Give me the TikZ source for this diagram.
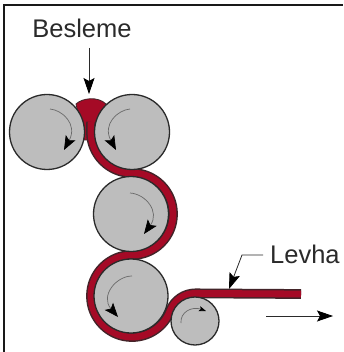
\documentclass[tikz,border=0pt]{standalone}
\usepackage{fontspec}
\setmainfont{Liberation Sans}
\usetikzlibrary{arrows.meta}
\definecolor{sheetred}{HTML}{A50A26}
\definecolor{rollgray}{HTML}{BDBDBD}
\definecolor{ink}{HTML}{2A2A2A}
\tikzset{
  x=1pt,y=-1pt,
  roller/.style={circle,draw=ink,line width=1.3pt,fill=rollgray,inner sep=0pt,minimum size=#1},
  lbl/.style={font=\fontsize{25.5}{29}\selectfont,text=ink,inner sep=0pt},
  spin/.style={draw=ink!70,line width=.7pt,-{Stealth[length=14pt,width=11pt,inset=3pt,color=black]}},
  spinsmall/.style={draw=ink!70,line width=.7pt,-{Stealth[length=7pt,width=5pt,inset=1.5pt,color=black]}},
  pointer/.style={draw=ink,line width=.8pt,-{Stealth[length=16pt,width=11pt,inset=3pt,color=black]}},
  sheetout/.style={draw=ink!80!sheetred,line width=9.8pt,line cap=butt,line join=round},
  sheetin/.style={draw=sheetred,line width=6.8pt,line cap=butt,line join=round}
}
\begin{document}
\begin{tikzpicture}
\useasboundingbox (0,0) rectangle (343,352);
\fill[white] (0,0) rectangle (343,352);
\draw[black!90,line width=2pt] (4,352) -- (4,5) -- (343,5);
% feed blob
\fill[sheetred,draw=ink!80!sheetred,line width=.8pt] (76,104) .. controls (82,98) and (98,96) .. (106,104) -- (96,140) -- (84,140) -- cycle;
% sheet
\def\sheetpath{(91.2,122)
  .. controls (90.8,126) and (91,129) .. (91,132)
  arc[start angle=180,end angle=270,x radius=41,y radius=-41]
  arc[start angle=90,end angle=-90,x radius=41,y radius=-41]
  arc[start angle=90,end angle=270,x radius=41,y radius=-41]
  arc[start angle=270,end angle=339,x radius=41,y radius=-41]
  arc[start angle=159,end angle=90,x radius=27,y radius=-27]
  -- (301,294)}
\draw[sheetout] \sheetpath;
\draw[sheetin] \sheetpath;
% rollers
\node[roller=75pt] (r1) at (47,132) {};
\node[roller=75pt] (r2) at (132,132) {};
\node[roller=75pt] (r3) at (131,214) {};
\node[roller=74pt] (r4) at (131,296) {};
\node[roller=48pt] (r5) at (195,321) {};
% rotation arrows
\draw[spin] (50,109) .. controls (62,110) and (78,124) .. (64,150);
\draw[spin] (130,109) .. controls (118,110) and (102,124) .. (116,150);
\draw[spin] (130,193) .. controls (146,194) and (160,212) .. (144,234);
\draw[spin] (132,276) .. controls (116,276) and (100,296) .. (118,317);
\draw[spinsmall] (181,323) .. controls (180,312) and (192,306) .. (206,311);
% labels
\node[lbl] (feed) at (82,28) {Besleme};
\node[lbl,anchor=west] (plate) at (270,254) {Levha};
\coordinate (feedtip) at (89,94);
\coordinate (feedtop) at (89,48);
\coordinate (platebend) at (242,255);
\coordinate (platetip) at (229,289);
\coordinate (outa) at (266,316);
\coordinate (outb) at (333,316);
\draw[pointer] (feedtop) -- (feedtip);
\draw[pointer] (plate.west) ++(-7,1) -- (platebend) -- (platetip);
\draw[pointer] (outa) -- (outb);
\end{tikzpicture}
\end{document}
